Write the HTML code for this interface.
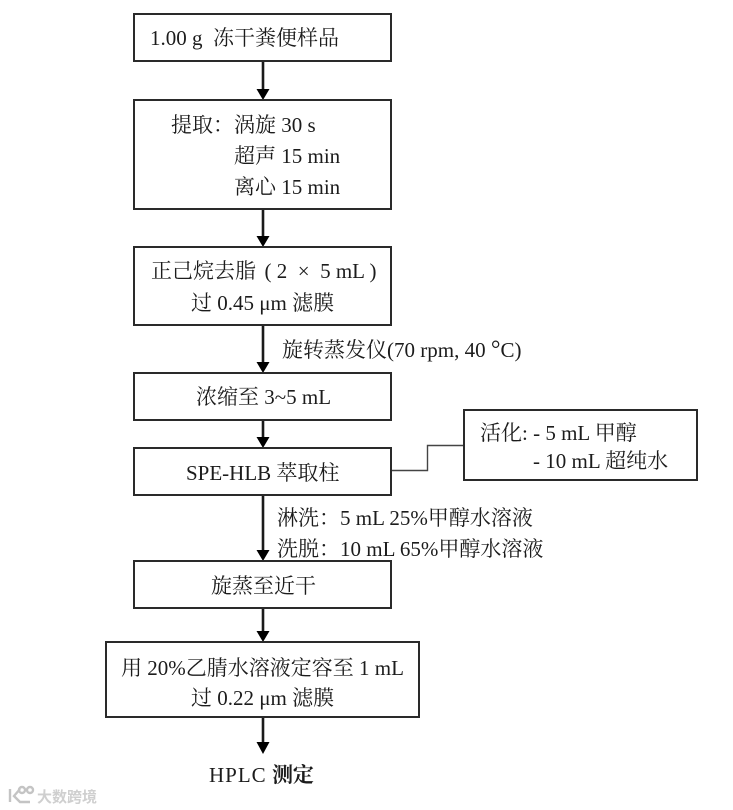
<!DOCTYPE html>
<html lang="zh">
<head>
<meta charset="utf-8">
<style>
html,body{margin:0;padding:0;background:#fff;width:733px;height:810px;overflow:hidden}
svg{display:block;filter:blur(0.3px)}
text{font-family:"Liberation Serif","Noto Serif CJK SC",serif;font-size:21px;fill:#1c1c1c;white-space:pre}
rect{fill:#fff;stroke:#2a2a2a;stroke-width:2}
.l{stroke:#1a1a1a;stroke-width:2.6;fill:none}
.h{fill:#000;stroke:none}
</style>
</head>
<body>
<svg width="733" height="810" viewBox="0 0 733 810" xmlns="http://www.w3.org/2000/svg">
<path class="l" d="M263 61V90M263 209V237M263 325V363M263 420V438M263 495V551M263 608V632M263 717V742"/>
<path class="h" d="M256.500 89H269.500L263 100ZM256.500 236H269.500L263 247ZM256.500 362H269.500L263 373ZM256.500 437H269.500L263 448ZM256.500 550H269.500L263 561ZM256.500 631H269.500L263 642ZM256.500 742H269.500L263 754Z"/>
<path d="M391 470.500H427.500V445.500H464" fill="none" stroke="#444" stroke-width="1.400"/>
<rect x="134" y="14" width="257" height="47"/>
<rect x="134" y="100" width="257" height="109"/>
<rect x="134" y="247" width="257" height="78"/>
<rect x="134" y="373" width="257" height="47"/>
<rect x="134" y="448" width="257" height="47"/>
<rect x="134" y="561" width="257" height="47"/>
<rect x="106" y="642" width="313" height="75"/>
<rect x="464" y="410" width="233" height="70"/>
<text x="150" y="45">1.00 g  冻干粪便样品</text>
<text x="171" y="132">提取：</text>
<text x="234" y="132">涡旋 30 s</text>
<text x="234" y="163">超声 15 min</text>
<text x="234" y="194">离心 15 min</text>
<text x="151" y="278">正己烷去脂</text>
<text x="264.500" y="278">( 2  ×  5 mL )</text>
<text x="191" y="310">过 0.45 μm 滤膜</text>
<text x="282" y="357">旋转蒸发仪(70 rpm, 40 <tspan font-size="24">°</tspan>C)</text>
<text x="196" y="404">浓缩至 3~5 mL</text>
<text x="186" y="480">SPE-HLB 萃取柱</text>
<text x="480" y="440">活化: - 5 mL 甲醇</text>
<text x="533" y="468">- 10 mL 超纯水</text>
<text x="277" y="525">淋洗：</text>
<text x="340" y="525">5 mL 25%甲醇水溶液</text>
<text x="277" y="556">洗脱：</text>
<text x="340" y="556">10 mL 65%甲醇水溶液</text>
<text x="211" y="593">旋蒸至近干</text>
<text x="121" y="675">用 20%乙腈水溶液定容至 1 mL</text>
<text x="191" y="705">过 0.22 μm 滤膜</text>
<text x="209" y="782"><tspan letter-spacing="1">HPLC</tspan> <tspan font-weight="700">测定</tspan></text>
<g fill="none" stroke="#c4c4c4" stroke-width="2.400">
<path d="M10 789V802M20 789L14 796L20 802H30"/>
<circle cx="22" cy="790" r="3"/><circle cx="30" cy="790" r="3"/>
</g>
<text x="37" y="802" style="font-family:'Liberation Sans','Noto Sans CJK SC',sans-serif;font-size:15px;font-weight:700;fill:#cfcfcf">大数跨境</text>
</svg>
</body>
</html>
